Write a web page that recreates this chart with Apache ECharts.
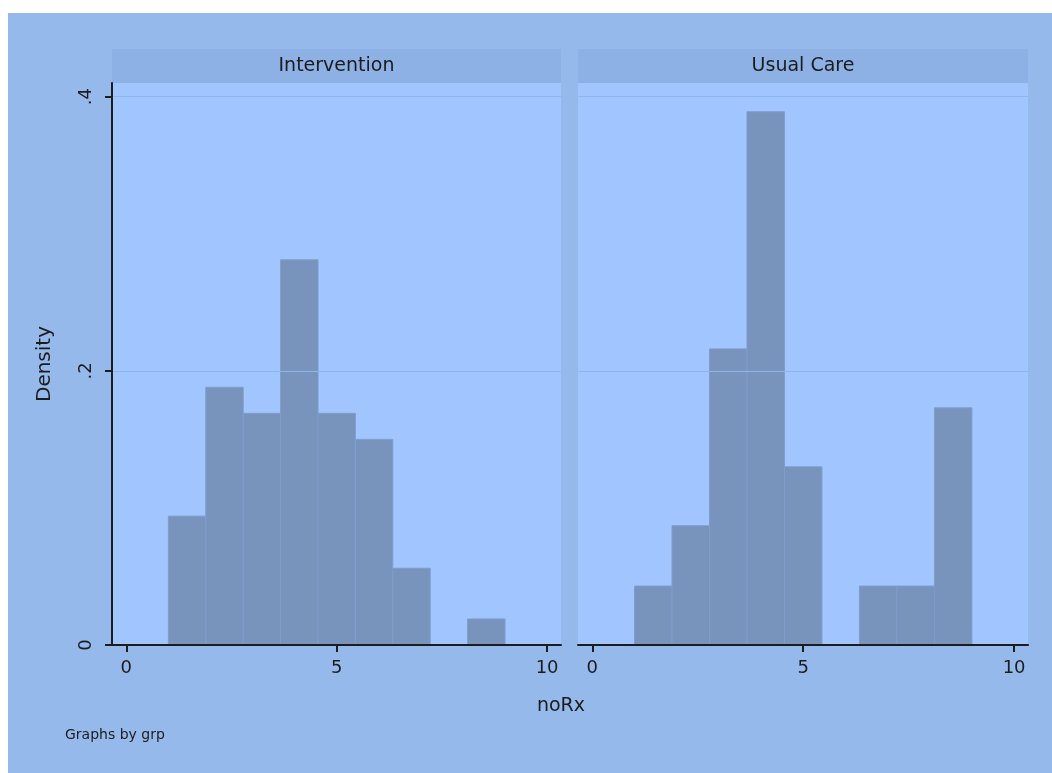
<!DOCTYPE html>
<html>
<head>
<meta charset="utf-8">
<script src="https://cdn.jsdelivr.net/npm/echarts@6/dist/echarts.min.js"></script>
<style>
  html, body { margin: 0; padding: 0; background: #ffffff; }
  #main { position: absolute; left: 8px; top: 13px; width: 1044px; height: 760px; }
</style>
</head>
<body>
<div id="main"></div>
<script>
// bins (noRx), same for both groups
let binEdges = [1, 1.889, 2.778, 3.667, 4.556, 5.444, 6.333, 7.222, 8.111, 9];
// density per bin
let interventionDensity = [0.094, 0.188, 0.169, 0.281, 0.169, 0.150, 0.056, 0, 0.019];
let usualCareDensity = [0.043, 0.087, 0.216, 0.389, 0.130, 0, 0.043, 0.043, 0.173];

let panels = ['Intervention', 'Usual Care'];
let xTicks = [0, 5, 10];
let yTicks = [0, 0.2, 0.4];
let yTickLabels = ['0', '.2', '.4'];

let chart = echarts.init(document.getElementById('main'));

let font = 'DejaVu Sans';
let ink = '#1c1c1c';

function to_bins(density) {
    let out = [];
    for (let i = 0; i < density.length; i++) {
        out.push([binEdges[i], binEdges[i + 1], density[i]]);
    }
    return out;
}

function render_bin(params, api) {
    let top = api.coord([api.value(0), api.value(2)]);
    let base = api.coord([api.value(1), 0]);
    if (api.value(2) <= 0) return null;
    return {
        type: 'rect',
        shape: {x: top[0], y: top[1], width: base[0] - top[0], height: base[1] - top[1]},
        style: {fill: '#7893bc', stroke: '#7f9dcc', lineWidth: 1}
    };
}

function y_label(v) {
    for (let i = 0; i < yTicks.length; i++) {
        if (Math.abs(v - yTicks[i]) < 1e-9) return yTickLabels[i];
    }
    return '';
}

// grids, coordinates inside the #main box
let grids = [
    {left: 104, right: 491, top: 70, bottom: 128},
    {left: 570, right: 24, top: 70, bottom: 128}
];

let xAxes = grids.map((g, i) => ({
    type: 'value',
    gridIndex: i,
    min: -0.34,
    max: 10.33,
    z: 10,
    axisLine: {show: true, onZero: false, lineStyle: {color: ink, width: 2}},
    axisTick: {show: true, length: 7, customValues: xTicks, lineStyle: {color: ink, width: 2}},
    axisLabel: {customValues: xTicks, color: ink, fontFamily: font, fontSize: 18, margin: 14},
    splitLine: {show: false}
}));

let yAxes = grids.map((g, i) => ({
    type: 'value',
    gridIndex: i,
    min: 0,
    max: 0.41,
    interval: 0.2,
    z: 10,
    name: i === 0 ? 'Density' : '',
    nameLocation: 'middle',
    nameGap: 57,
    nameTextStyle: {color: ink, fontFamily: font, fontSize: 20},
    axisLine: {show: i === 0, onZero: false, lineStyle: {color: ink, width: 2}},
    axisTick: {show: i === 0, length: 7, customValues: yTicks, lineStyle: {color: ink, width: 2}},
    axisLabel: {show: i === 0, customValues: yTicks, rotate: 90, formatter: y_label, color: ink, fontFamily: font, fontSize: 18, margin: 17},
    splitLine: {show: true, lineStyle: {color: '#8fb4ee', width: 1}}
}));

// panel strips + notes
let graphics = [];
grids.forEach((g, i) => {
    let x0 = g.left;
    let w = 1044 - g.right - g.left;
    graphics.push({
        type: 'rect',
        shape: {x: x0, y: 36, width: w, height: 34},
        style: {fill: '#8db0e5'}
    });
    graphics.push({
        type: 'text',
        x: x0 + w / 2,
        y: 53,
        style: {text: panels[i], fill: ink, font: '19px "' + font + '"', textAlign: 'center', textVerticalAlign: 'middle'}
    });
});
graphics.push({
    type: 'text', x: 553, y: 693,
    style: {text: 'noRx', fill: ink, font: '19px "' + font + '"', textAlign: 'center', textVerticalAlign: 'middle'}
});
graphics.push({
    type: 'text', x: 57, y: 722,
    style: {text: 'Graphs by grp', fill: ink, font: '14px "' + font + '"', textAlign: 'left', textVerticalAlign: 'middle'}
});

let option = {
    backgroundColor: '#96b9ec',
    animation: false,
    grid: grids.map(g => Object.assign({show: true, backgroundColor: '#a0c5ff', borderWidth: 0}, g)),
    xAxis: xAxes,
    yAxis: yAxes,
    graphic: graphics,
    series: [
        {
            name: panels[0],
            type: 'custom',
            xAxisIndex: 0,
            yAxisIndex: 0,
            z: 1,
            renderItem: render_bin,
            encode: {x: [0, 1], y: 2},
            data: to_bins(interventionDensity)
        },
        {
            name: panels[1],
            type: 'custom',
            xAxisIndex: 1,
            yAxisIndex: 1,
            z: 1,
            renderItem: render_bin,
            encode: {x: [0, 1], y: 2},
            data: to_bins(usualCareDensity)
        }
    ]
};

chart.setOption(option);
</script>
</body>
</html>
